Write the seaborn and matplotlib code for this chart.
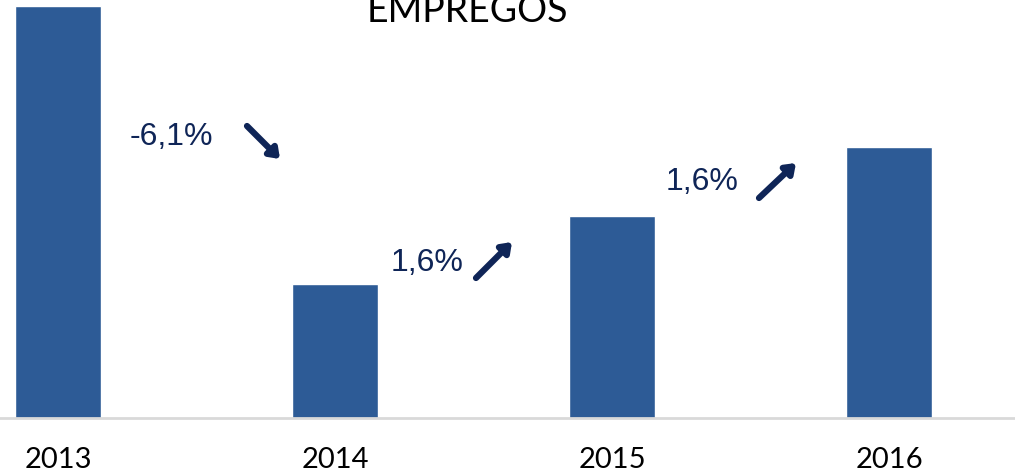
import matplotlib
matplotlib.use("Agg")
import matplotlib.pyplot as plt
import seaborn as sns
import pandas as pd

# dados (índice de empregos, 2014 = 100)
anos = ["2013", "2014", "2015", "2016"]
empregos = [106.5, 100.0, 101.6, 103.2]
variacoes = ["-6,1%", "1,6%", "1,6%"]

cor_barra = "#2D5B96"
cor_texto = "#0F2557"

sns.set_style("white")
plt.rcParams['font.family'] = ['Lato', 'DejaVu Sans']

W, H = 1015, 476
fig = plt.figure(figsize=(W / 100, H / 100), dpi=100)
ax = fig.add_axes([0, (H - 418) / H, 1, 418 / H])

df = pd.DataFrame({'ano': anos, 'empregos': empregos})
sns.barplot(data=df, x='ano', y='empregos', color=cor_barra, width=0.31,
            saturation=1, ax=ax)

ax.set_xlim(-58 / 277, (W - 58) / 277)
ax.set_ylim(96.86, 96.86 + 416 / 42.5)
ax.set_xlabel('')
ax.set_ylabel('')
ax.set_yticks([])
for s in ['top', 'right', 'left']:
    ax.spines[s].set_visible(False)
ax.spines['bottom'].set_color('#D9D9D9')
ax.spines['bottom'].set_linewidth(2)
ax.tick_params(axis='x', length=0, pad=21, labelsize=21, labelcolor='black')

# título (cortado no topo)
fig.text(467 / W, 1 - 22 / H, 'EMPREGOS', ha='center', va='baseline',
         fontsize=27, color='black')

# rótulos de variação e setas
def px(x, y):
    return (x / W, 1 - y / H)

posicoes_txt = [(171, 137), (427, 263), (702, 182)]
setas = [((247, 126), (280, 159)), ((476, 278), (512, 242)), ((759, 198), (796, 163))]
for txt, (tx, ty), (p0, p1) in zip(variacoes, posicoes_txt, setas):
    fig.text(*px(tx, ty), txt, ha='center', va='center', fontsize=23,
             color=cor_texto, family=['Liberation Sans', 'DejaVu Sans'])
    ax.annotate('', xy=px(*p1), xytext=px(*p0), xycoords='figure fraction',
                textcoords='figure fraction',
                arrowprops=dict(arrowstyle='-|>,head_length=0.55,head_width=0.4',
                                color=cor_texto, lw=4.5, shrinkA=0, shrinkB=0))

fig.savefig('out.png', dpi=100)
